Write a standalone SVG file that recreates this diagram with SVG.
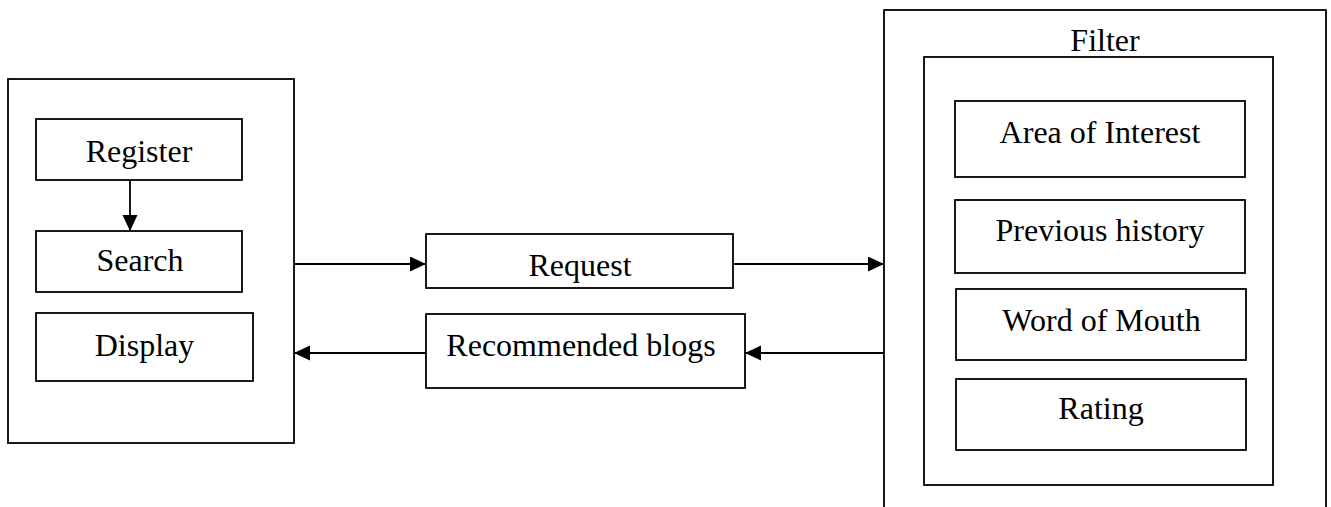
<svg xmlns="http://www.w3.org/2000/svg" width="1331" height="507" viewBox="0 0 1331 507">
<style>
.box{fill:#fff;stroke:#000;stroke-width:1.8}
.t{font-family:"Liberation Serif","Times New Roman",serif;font-size:32px;fill:#000;text-anchor:middle}
.c{fill:none;stroke:#000;stroke-width:1.8}
</style>
<defs>
<marker id="ah" markerUnits="userSpaceOnUse" markerWidth="17" markerHeight="16" refX="16" refY="7.5" orient="auto">
<path d="M0,0 L16,7.5 L0,15 Z" fill="#000"/>
</marker>
</defs>
<rect width="1331" height="507" fill="#fff"/>
<g id="client">
<rect class="box" x="8" y="79" width="286" height="364"/>
</g>
<g id="register"><rect class="box" x="36" y="119" width="206" height="61"/><text class="t" x="139" y="161.5">Register</text></g>
<g id="search"><rect class="box" x="36" y="231" width="206" height="61"/><text class="t" x="140" y="270.5">Search</text></g>
<g id="display"><rect class="box" x="36" y="313" width="217" height="68"/><text class="t" x="144.5" y="355.5">Display</text></g>
<g id="request"><rect class="box" x="426" y="234" width="307" height="54"/><text class="t" x="580" y="275.5">Request</text></g>
<g id="recommended"><rect class="box" x="426" y="314" width="319" height="74"/><text class="t" x="581" y="355.5">Recommended blogs</text></g>
<g id="filter">
<rect class="box" x="884" y="10" width="442" height="520"/>
<text class="t" x="1105" y="50.5">Filter</text>
<rect class="box" x="924" y="57" width="349" height="428"/>
</g>
<g id="area"><rect class="box" x="955" y="101" width="290" height="76"/><text class="t" x="1100" y="142.5">Area of Interest</text></g>
<g id="history"><rect class="box" x="955" y="200" width="290" height="73"/><text class="t" x="1100" y="240.5">Previous history</text></g>
<g id="word"><rect class="box" x="956" y="289" width="290" height="71"/><text class="t" x="1101.5" y="330.5">Word of Mouth</text></g>
<g id="rating"><rect class="box" x="956" y="379" width="290" height="71"/><text class="t" x="1101" y="418.5">Rating</text></g>
<g id="connectors">
<line class="c" x1="130" y1="180" x2="130" y2="231" marker-end="url(#ah)"/>
<line class="c" x1="294" y1="264" x2="426" y2="264" marker-end="url(#ah)"/>
<line class="c" x1="733" y1="264" x2="884" y2="264" marker-end="url(#ah)"/>
<line class="c" x1="884" y1="353" x2="745" y2="353" marker-end="url(#ah)"/>
<line class="c" x1="426" y1="353" x2="294" y2="353" marker-end="url(#ah)"/>
</g>
</svg>
